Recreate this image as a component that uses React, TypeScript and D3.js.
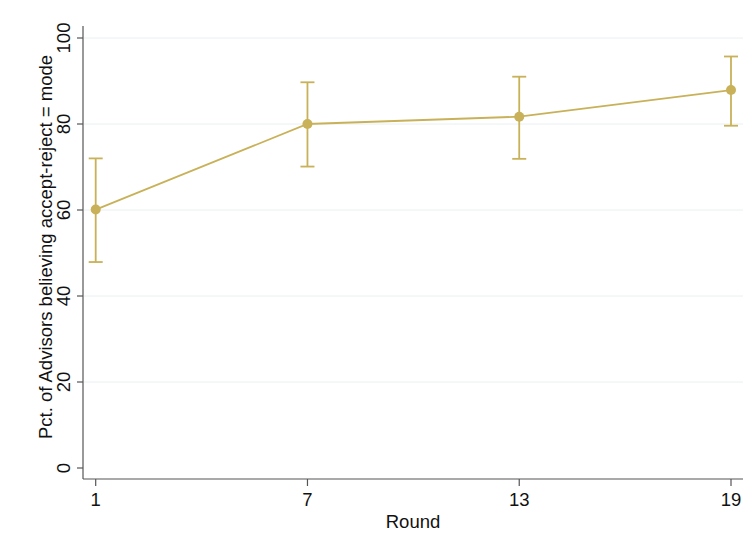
import React, { useEffect, useRef } from "react";
import * as d3 from "d3";

const rounds = [1, 7, 13, 19];
const pct = [60.1, 80.0, 81.7, 87.9];
const ciLow = [47.9, 70.1, 71.9, 79.6];
const ciHigh = [72.0, 89.7, 91.0, 95.7];
const yTicks = [0, 20, 40, 60, 80, 100];

const gold = "#c8b158";

export default function App() {
  const ref = useRef<SVGSVGElement>(null);

  useEffect(() => {
    const svg = d3.select(ref.current);
    svg.selectAll("*").remove();

    const left = 83, right = 743, top = 26, bottom = 479;
    const x = d3.scaleLinear().domain([1, 19]).range([95.7, 731]);
    const y = d3.scaleLinear().domain([0, 100]).range([468, 38]);
    const font = "Helvetica, Arial, 'Liberation Sans', sans-serif";
    const fs = "18.5px";

    svg.append("rect").attr("width", 748).attr("height", 550).attr("fill", "#fff");

    // gridlines
    svg.append("g")
      .selectAll("line")
      .data(yTicks.filter((d) => d > 0))
      .enter()
      .append("line")
      .attr("x1", left + 1)
      .attr("x2", right)
      .attr("y1", (d) => y(d))
      .attr("y2", (d) => y(d))
      .attr("stroke", "#e9f0f2")
      .attr("stroke-width", 1);

    // axes
    svg.append("line").attr("x1", left).attr("x2", left).attr("y1", top).attr("y2", bottom)
      .attr("stroke", "#555").attr("stroke-width", 1.2);
    svg.append("line").attr("x1", left).attr("x2", right).attr("y1", bottom).attr("y2", bottom)
      .attr("stroke", "#555").attr("stroke-width", 1.2);

    const yt = svg.append("g").selectAll("g").data(yTicks).enter().append("g");
    yt.append("line").attr("x1", left - 6).attr("x2", left)
      .attr("y1", (d) => y(d)).attr("y2", (d) => y(d)).attr("stroke", "#555").attr("stroke-width", 1.2);
    yt.append("text")
      .attr("transform", (d) => `translate(70,${y(d)}) rotate(-90)`)
      .attr("text-anchor", "middle")
      .style("font-family", font).style("font-size", fs).attr("fill", "#111")
      .text((d) => String(d));

    const xt = svg.append("g").selectAll("g").data(rounds).enter().append("g");
    xt.append("line").attr("x1", (d) => x(d)).attr("x2", (d) => x(d))
      .attr("y1", bottom).attr("y2", bottom + 7).attr("stroke", "#555").attr("stroke-width", 1.2);
    xt.append("text").attr("x", (d) => x(d)).attr("y", 506)
      .attr("text-anchor", "middle")
      .style("font-family", font).style("font-size", fs).attr("fill", "#111")
      .text((d) => String(d));

    svg.append("text").attr("x", 413).attr("y", 528).attr("text-anchor", "middle")
      .style("font-family", font).style("font-size", fs).attr("fill", "#111").text("Round");
    svg.append("text").attr("transform", "translate(52,247) rotate(-90)").attr("text-anchor", "middle")
      .style("font-family", font).style("font-size", fs).attr("fill", "#111")
      .text("Pct. of Advisors believing accept-reject = mode");

    const data = rounds.map((r, i) => ({ r, v: pct[i], lo: ciLow[i], hi: ciHigh[i] }));

    // error bars
    const eb = svg.append("g").selectAll("g").data(data).enter().append("g")
      .attr("stroke", gold).attr("stroke-width", 1.8);
    eb.append("line").attr("x1", (d) => x(d.r)).attr("x2", (d) => x(d.r))
      .attr("y1", (d) => y(d.lo)).attr("y2", (d) => y(d.hi));
    eb.append("line").attr("x1", (d) => x(d.r) - 7).attr("x2", (d) => x(d.r) + 7)
      .attr("y1", (d) => y(d.lo)).attr("y2", (d) => y(d.lo));
    eb.append("line").attr("x1", (d) => x(d.r) - 7).attr("x2", (d) => x(d.r) + 7)
      .attr("y1", (d) => y(d.hi)).attr("y2", (d) => y(d.hi));

    const line = d3.line<{ r: number; v: number }>().x((d) => x(d.r)).y((d) => y(d.v));
    svg.append("path").datum(data).attr("d", line).attr("fill", "none")
      .attr("stroke", gold).attr("stroke-width", 1.8);

    svg.append("g").selectAll("circle").data(data).enter().append("circle")
      .attr("cx", (d) => x(d.r)).attr("cy", (d) => y(d.v)).attr("r", 5).attr("fill", gold);
  }, []);

  return (
    <div style={{ position: "absolute", left: 0, top: 0 }}>
      <svg ref={ref} width={748} height={550}></svg>
    </div>
  );
}
